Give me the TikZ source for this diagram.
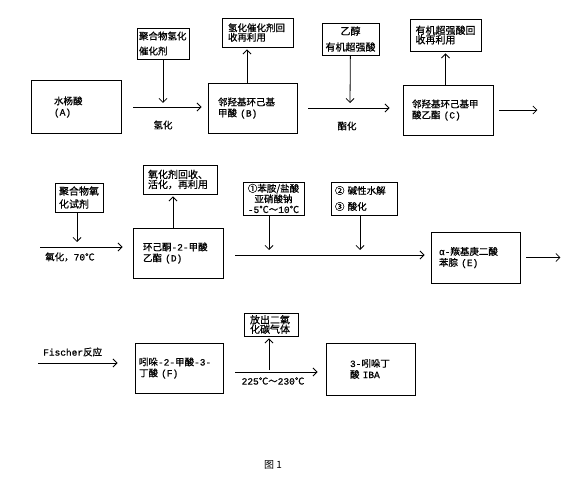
\documentclass[tikz,border=0pt]{standalone}
\usepackage{fontspec}
\setmainfont{Noto Sans CJK SC}[FakeBold=0.8]
\newfontfamily\latmono{Liberation Mono}[FakeBold=0.8]
\newfontfamily\capfont{Noto Sans CJK SC}
\newcommand\lat[1]{{\latmono #1}}
\usetikzlibrary{arrows.meta}
\tikzset{
  box/.style={draw, line width=0.9pt, inner sep=0pt, align=left},
  bigbox/.style={box, minimum height=50pt, font=\fontsize{9.5}{11}\selectfont},
  smallbox/.style={box},
  arr/.style={draw, line width=0.8pt, -{Straight Barb[length=4pt,width=8pt,line width=0.8pt]}},
  lab/.style={inner sep=0pt, font=\fontsize{9.5}{11}\selectfont},
}
\begin{document}
\begin{tikzpicture}[x=1pt,y=-1pt]
\useasboundingbox (0,0) rectangle (570,478);

% ---------- row 1 ----------
\node[bigbox, minimum width=90pt, minimum height=53pt, text width=44pt] (A) at (76,107) {水杨酸\\\lat{(A)}};
\node[bigbox, minimum width=89pt, text width=69pt] (B) at (252.5,108) {邻羟基环己基\\甲酸 \lat{(B)}};
\node[bigbox, minimum width=90pt, text width=72pt] (C) at (448,110) {邻羟基环己基甲\\酸乙酯 \lat{(C)}};

\node[smallbox, minimum width=52pt, minimum height=31pt, text width=48pt, font=\fontsize{9.5}{15}\selectfont] (cat1) at (163,43.5) {聚合物氢化\\催化剂};
\node[smallbox, minimum width=71pt, minimum height=29pt, text width=59pt, font=\fontsize{9.5}{9.5}\selectfont] (rec1) at (257.5,32.5) {氢化催化剂回\\收再利用};
\node[smallbox, align=center, minimum width=57pt, minimum height=32pt, font=\fontsize{10}{16}\selectfont] (est) at (350.5,39) {乙醇\\有机超强酸};
\node[smallbox, minimum width=71pt, minimum height=32pt, text width=60pt, font=\fontsize{10}{9.5}\selectfont] (rec2) at (445.5,35) {有机超强酸回\\收再利用};

\coordinate (h1) at (163,103);
\coordinate (up1) at (247,0);
\coordinate (h2) at (350,103);

\draw[arr] ([xshift=12pt]A.east) -- ([xshift=-6pt]A.east -| B.west);
\draw[arr] (cat1) -- (h1);
\node[lab] (l1) at (163,125) {氢化};
\draw[arr, shorten >=2pt] (B.north -| up1) -- (rec1.south -| up1);
\draw[arr] ([xshift=11pt]B.east) -- ([xshift=-13pt]B.east -| C.west);
\draw[arr] (est) -- (h2);
\node[lab] (l2) at (347,126) {酯化};
\draw[arr, shorten >=2pt] (C.north -| rec2) -- (rec2);
\draw[arr] ([xshift=6pt]C.east) -- ++(38,0) coordinate (cout);

% ---------- row 2 ----------
\node[bigbox, minimum width=90pt, text width=70pt] (D) at (178,253) {环己酮\lat{-2-}甲酸\\乙酯 \lat{(D)}};
\node[bigbox, minimum width=89pt, minimum height=51pt, text width=73pt] (E) at (475.5,257.5) {\lat{α-}羰基庚二酸\\苯腙 \lat{(E)}};

\node[smallbox, minimum width=48pt, minimum height=29pt, text width=40pt, font=\fontsize{10}{13}\selectfont] (ox) at (79,197.5) {聚合物氧\\化试剂};
\node[smallbox, minimum width=74pt, minimum height=29pt, text width=64pt, font=\fontsize{10}{10}\selectfont] (rec3) at (180,179.5) {氧化剂回收、\\活化，再利用};
\node[smallbox, align=center, minimum width=61pt, minimum height=33pt, font=\fontsize{9.5}{10.5}\selectfont] (diaz) at (273.5,198.5) {①苯胺/盐酸\\亚硝酸钠\\\lat{-5}℃～\lat{10}℃};
\node[smallbox, minimum width=66pt, minimum height=33pt, text width=58pt, font=\fontsize{9.5}{16}\selectfont] (hyd) at (364,198.5) {② 碱性水解\\③ 酸化};

\coordinate (in2) at (40,247);
\coordinate (h3) at (77,242);
\coordinate (up3) at (173,0);
\coordinate (h4) at (235,255);
\coordinate (d1) at (269,250);
\coordinate (d2) at (360,250);

\draw[arr] (ox.south -| h3) -- (h3);
\draw[arr, shorten >=10pt] (in2) -- (in2 -| D.west);
\node[lab, anchor=west] (l3) at (45,257) {氧化，\lat{70}℃};
\draw[arr, shorten >=2pt] (D.north -| up3) -- (rec3.south -| up3);
\draw[arr, shorten >=6pt] (h4) -- (h4 -| E.west);
\draw[arr] (diaz.south -| d1) -- (d1);
\draw[arr] (hyd.south -| d2) -- (d2);
\draw[arr] ([xshift=6pt]E.east) -- ++(34,0) coordinate (eout);

% ---------- row 3 ----------
\node[bigbox, minimum width=88pt, text width=80pt] (F) at (179,368) {吲哚\lat{-2-}甲酸\lat{-3-}\\丁酸 \lat{(F)}};
\node[bigbox, minimum width=89pt, minimum height=52pt, text width=41pt] (IBA) at (370.5,369) {\lat{3-}吲哚丁\\酸 \lat{IBA}};
\node[smallbox, minimum width=54pt, minimum height=23pt, text width=42pt, font=\fontsize{10}{9.5}\selectfont] (co2) at (271,324.5) {放出二氧\\化碳气体};

\coordinate (in3) at (38,363);
\coordinate (h5) at (235,372);
\coordinate (up5) at (269,370);

\node[lab, anchor=west] (l4) at (43,352) {\lat{Fischer}反应};
\draw[arr, shorten >=17pt] (in3) -- (in3 -| F.west);
\draw[arr, shorten >=8pt] (h5) -- (h5 -| IBA.west);
\draw[arr, shorten >=2pt] (up5) -- (co2.south -| up5);
\node[lab] (l5) at (273,381) {\lat{225}℃～\lat{230}℃};

% caption
\node[lab, font=\capfont\fontsize{10}{12}\selectfont] (cap) at (273,465) {图 1};
\end{tikzpicture}
\end{document}
